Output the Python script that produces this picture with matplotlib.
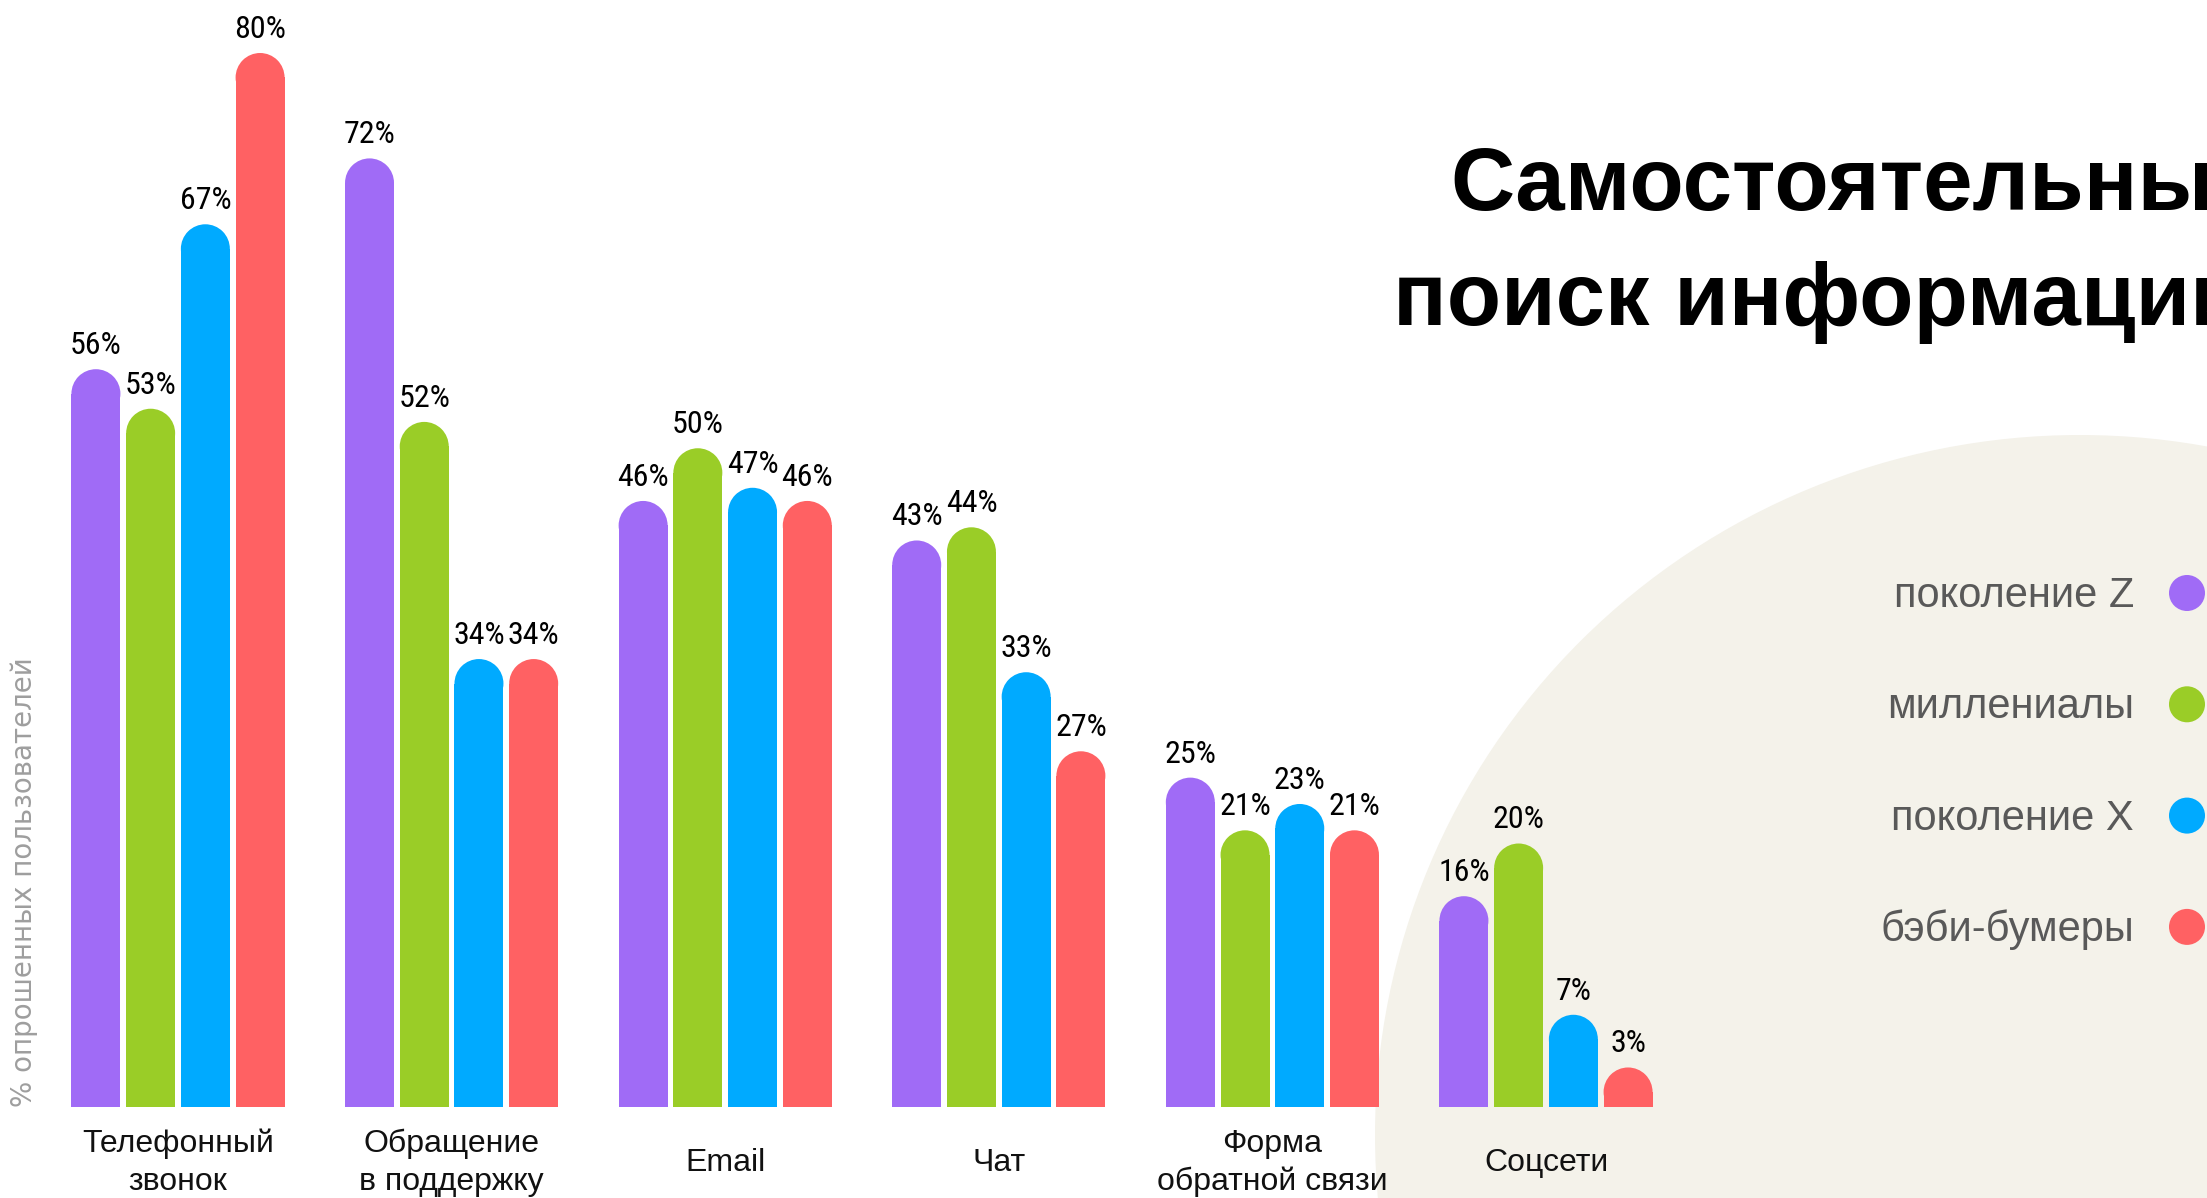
import matplotlib
matplotlib.use('Agg')
import matplotlib.pyplot as plt
from matplotlib import font_manager
from matplotlib.patches import Ellipse, Circle

# data (percent of respondents)
categories = ['Телефонный\nзвонок', 'Обращение\nв поддержку', 'Email', 'Чат',
              'Форма\nобратной связи', 'Соцсети']
gen_z = [56, 72, 46, 43, 25, 16]
millennials = [53, 52, 50, 44, 21, 20]
gen_x = [67, 34, 47, 33, 23, 7]
boomers = [80, 34, 46, 27, 21, 3]
series_names = ['поколение Z', 'миллениалы', 'поколение X', 'бэби-бумеры']
colors = ['#A06BF6', '#9ACD27', '#00AAFF', '#FF6163']
series = [gen_z, millennials, gen_x, boomers]

# value labels want a narrow face; take the first one that is installed
names = {f.name for f in font_manager.fontManager.ttflist}
val_font, val_size = 'Roboto', 21
for fam, size in [('Liberation Sans Narrow', 23), ('Roboto Condensed', 23)]:
    if fam in names:
        val_font, val_size = fam, size
        break
if 'Liberation Sans Narrow' in names:
    title_font, title_size = 'Liberation Sans Narrow', 74
else:
    title_font, title_size = 'Liberation Sans', 64

W, H = 2207, 1198
fig = plt.figure(figsize=(W / 100, H / 100), dpi=100)
fig.patch.set_facecolor('white')

# background layer in pixel coordinates
bg = fig.add_axes([0, 0, 1, 1], zorder=0)
bg.set_xlim(0, W)
bg.set_ylim(H, 0)
bg.axis('off')
bg.add_patch(Ellipse((2080, 1135), 2 * 705, 2 * 700, color='#F4F2EA', lw=0))

# bar layer
base_px = 1107          # baseline, pixels from top
px_per_pct = 13.175
group_px = 273.6
first_center_px = 178
ax = fig.add_axes([0, (H - base_px) / H, 1, base_px / H], zorder=1)
ax.patch.set_alpha(0)
x0 = -first_center_px / group_px
ax.set_xlim(x0, x0 + W / group_px)
ax.set_ylim(0, base_px / px_per_pct)
ax.axis('off')

bar_w = 0.179
cap_h = (bar_w * group_px / 2) / px_per_pct   # radius of the round top, in % units

for j, (vals, col) in enumerate(zip(series, colors)):
    for i, v in enumerate(vals):
        x = i + (j - 1.5) * 0.2
        ax.bar(x, v - cap_h, width=bar_w, color=col, linewidth=0)
        ax.add_patch(Ellipse((x, v - cap_h), bar_w, 2 * cap_h, color=col, lw=0))
        ax.annotate(f'{v}%', (x, v), xytext=(0, 10.8), textcoords='offset points',
                    ha='center', va='baseline', fontsize=val_size,
                    family=val_font, color='black')

for i, cat in enumerate(categories):
    ax.text(i, -56 / base_px, cat, transform=ax.get_xaxis_transform(),
            ha='center', va='center', fontsize=23, family='Liberation Sans',
            color='#111111', linespacing=1.35, multialignment='center')

# y label
bg.text(24, 1107, '% опрошенных пользователей', rotation=90, ha='center',
        va='bottom', fontsize=20, family='DejaVu Sans', color='#9E9E9E')

# title (runs off the right edge like the original)
bg.text(1450, 210, 'Самостоятельный', ha='left', va='baseline',
        fontsize=title_size, fontweight='bold', family=title_font, color='black')
bg.text(1393, 325, 'поиск информации', ha='left', va='baseline',
        fontsize=title_size, fontweight='bold', family=title_font, color='black')

# legend
for k, (name, col) in enumerate(zip(series_names, colors)):
    y = 593 + k * 111.3
    bg.add_patch(Circle((2187, y), 18, color=col, lw=0))
    bg.text(2134, y + 14, name, ha='right', va='baseline', fontsize=30,
            family='Liberation Sans', color='#595959')

fig.savefig('out.png', dpi=100)
